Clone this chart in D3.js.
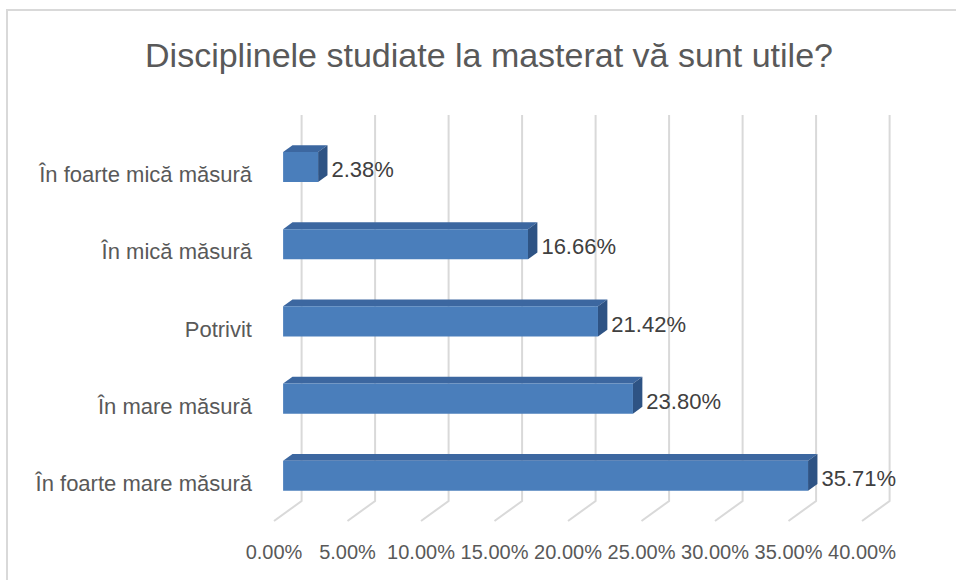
<!DOCTYPE html>
<html>
<head>
<meta charset="utf-8">
<script src="https://cdn.jsdelivr.net/npm/d3@7.9.0/dist/d3.min.js"></script>
<style>
  body { margin: 0; background: #fff; }
  svg { display: block; font-family: "Liberation Sans", Arial, sans-serif; }
</style>
</head>
<body>
<svg width="956" height="580"></svg>
<script>
// chart data, top to bottom as in the picture
const categories = ['În foarte mică măsură', 'În mică măsură', 'Potrivit', 'În mare măsură', 'În foarte mare măsură'];
const values = [2.38, 16.66, 21.42, 23.80, 35.71];
const ticks = [0, 5, 10, 15, 20, 25, 30, 35, 40];

const svg = d3.select('svg');
const DX = 27.6, DY = 20; // depth offset of the back wall
const d1 = 0.33, d2 = 0.67; // bar depth (0 = front, 1 = back)

let x = d3.scaleLinear().domain([0, 40]).range([274, 862]);
let y = d3.scaleBand().domain(categories).range([135, 521]);
const barH = y.bandwidth() * 0.39;

// point in 3d: value, screen y at the front, depth
function proj(v, py, d) {
  return [x(v) + DX * d, py - DY * d];
}

// chart border
svg.append('rect')
  .attr('x', 7).attr('y', 10).attr('width', 960).attr('height', 600)
  .attr('fill', 'none').attr('stroke', '#d9d9d9').attr('stroke-width', 2);

// title
svg.append('text')
  .attr('x', 489).attr('y', 55)
  .attr('text-anchor', 'middle').attr('dominant-baseline', 'central')
  .attr('font-size', 34).attr('fill', '#595959')
  .text('Disciplinele studiate la masterat vă sunt utile?');

// back wall grid + floor lines
const yTop = 135, yBot = 521;
ticks.forEach(t => {
  let top = proj(t, yTop, 1), back = proj(t, yBot, 1), front = proj(t, yBot, 0);
  svg.append('path')
    .attr('d', d3.line()([top, back, front]))
    .attr('fill', 'none').attr('stroke', '#d9d9d9').attr('stroke-width', 2);
});

// tick labels
ticks.forEach(t => {
  svg.append('text')
    .attr('x', x(t)).attr('y', 552)
    .attr('text-anchor', 'middle').attr('dominant-baseline', 'central')
    .attr('font-size', 20).attr('fill', '#595959')
    .text(t.toFixed(2) + '%');
});

// bars
categories.forEach((c, i) => {
  let v = values[i];
  let yt = y(c) + (y.bandwidth() - barH) / 2;
  let yb = yt + barH;
  let g = svg.append('g');
  // top
  g.append('path')
    .attr('d', d3.line()([proj(0, yt, d1), proj(v, yt, d1), proj(v, yt, d2), proj(0, yt, d2)]) + 'Z')
    .attr('fill', '#3c67a0');
  // right side
  g.append('path')
    .attr('d', d3.line()([proj(v, yt, d1), proj(v, yb, d1), proj(v, yb, d2), proj(v, yt, d2)]) + 'Z')
    .attr('fill', '#2e5384');
  // front
  g.append('path')
    .attr('d', d3.line()([proj(0, yt, d1), proj(v, yt, d1), proj(v, yb, d1), proj(0, yb, d1)]) + 'Z')
    .attr('fill', '#4a7ebb');

  // data label
  let lp = proj(v, y(c) + y.bandwidth() / 2, d2);
  svg.append('text')
    .attr('x', lp[0] + 4).attr('y', y(c) + y.bandwidth() / 2 - 4)
    .attr('dominant-baseline', 'central')
    .attr('font-size', 22).attr('fill', '#404040')
    .text(v.toFixed(2) + '%');

  // category label
  svg.append('text')
    .attr('x', 252).attr('y', y(c) + y.bandwidth() / 2 + 1)
    .attr('text-anchor', 'end').attr('dominant-baseline', 'central')
    .attr('font-size', 22).attr('fill', '#595959')
    .text(c);
});
</script>
</body>
</html>
